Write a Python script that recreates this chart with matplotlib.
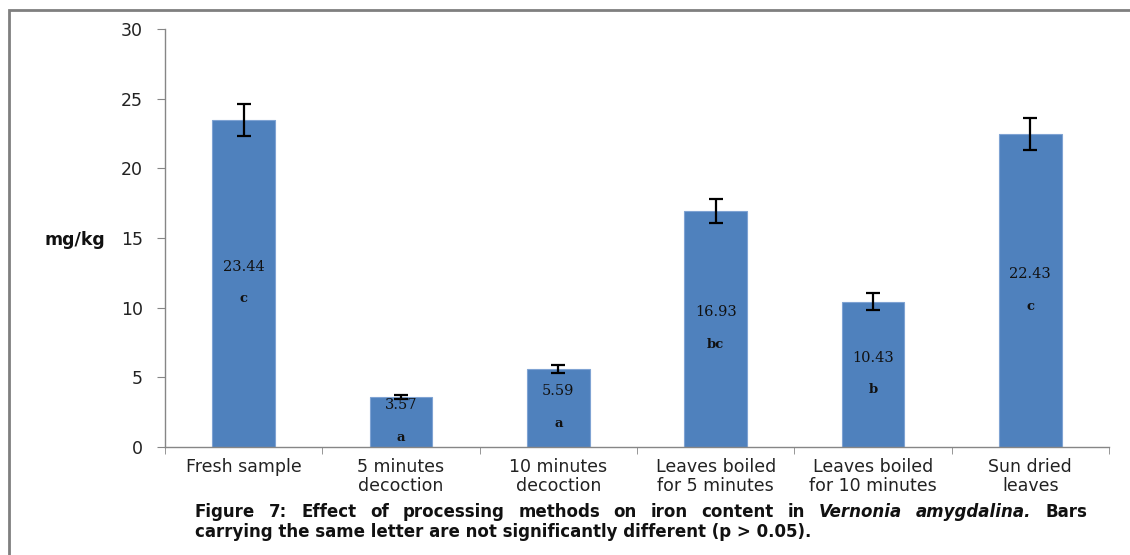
import matplotlib.pyplot as plt
import matplotlib.patches as patches
from matplotlib.ticker import FixedLocator

# iron content by processing method
methods = ["Fresh sample", "5 minutes\ndecoction", "10 minutes\ndecoction",
           "Leaves boiled\nfor 5 minutes", "Leaves boiled\nfor 10 minutes", "Sun dried\nleaves"]
iron = [23.44, 3.57, 5.59, 16.93, 10.43, 22.43]
iron_err = [1.15, 0.15, 0.3, 0.85, 0.6, 1.15]
letters = ["c", "a", "a", "bc", "b", "c"]

BAR = "#4F81BD"
AXIS = "#868686"

fig = plt.figure(figsize=(11.3, 5.55), dpi=100, facecolor="white")

# outer frame
fig.add_artist(patches.Rectangle((9 / 1130, -0.1), 1.2, 1 - 10 / 555 + 0.1,
                                 transform=fig.transFigure, fill=False,
                                 edgecolor="#7F7F7F", linewidth=2))

ax = fig.add_axes([165 / 1130, 1 - 447 / 555, (1109 - 165) / 1130, (447 - 29) / 555])
x = list(range(len(methods)))
ax.bar(x, iron, width=0.4, color=BAR, edgecolor="#7FA3D3", linewidth=0.8, zorder=2)
ax.errorbar(x, iron, yerr=iron_err, fmt="none", ecolor="black",
            elinewidth=1.6, capsize=5, capthick=1.6, zorder=3)

for xi, v, lt in zip(x, iron, letters):
    ax.annotate(f"{v:.2f}", (xi, v / 2), xytext=(0, 12), textcoords="offset points",
                ha="center", va="center", fontsize=10.5, family="DejaVu Serif",
                color="#111111", zorder=4)
    ax.annotate(lt, (xi, v / 2), xytext=(0, -11), textcoords="offset points",
                ha="center", va="center", fontsize=9.5, family="DejaVu Serif",
                fontweight="bold", color="#111111", zorder=4)

ax.set_xlim(-0.5, len(methods) - 0.5)
ax.set_ylim(0, 30)
ax.set_yticks(range(0, 31, 5))
ax.set_xticks(x)
ax.set_xticklabels(methods, fontsize=12.5, color="#222222", linespacing=1.05)
ax.xaxis.set_minor_locator(FixedLocator([i - 0.5 for i in range(len(methods) + 1)]))
ax.tick_params(axis="x", which="major", length=0, pad=8)
ax.tick_params(axis="x", which="minor", length=5, color=AXIS, direction="out")
ax.tick_params(axis="y", length=6, color=AXIS, pad=10, labelsize=12.5, labelcolor="#222222")
for s in ["top", "right"]:
    ax.spines[s].set_visible(False)
for s in ["left", "bottom"]:
    ax.spines[s].set_color(AXIS)
    ax.spines[s].set_linewidth(1)

fig.text(44 / 1130, 1 - 240 / 555, "mg/kg", fontsize=12.5, fontweight="bold",
         ha="left", va="center", color="#111111")

# caption, first line justified word by word
fig.canvas.draw()
renderer = fig.canvas.get_renderer()
line1 = [("Figure", "normal"), ("7:", "normal"), ("Effect", "normal"), ("of", "normal"),
         ("processing", "normal"), ("methods", "normal"), ("on", "normal"), ("iron", "normal"),
         ("content", "normal"), ("in", "normal"), ("Vernonia", "italic"),
         ("amygdalina.", "italic"), ("Bars", "normal")]
x0, x1 = 195, 1087
y1 = 1 - 512 / 555
widths = []
texts = []
for w, st in line1:
    t = fig.text(0, y1, w, fontsize=12, fontweight="bold", style=st,
                 ha="left", va="center", color="#111111")
    texts.append(t)
    widths.append(t.get_window_extent(renderer).width)
gap = (x1 - x0 - sum(widths)) / (len(line1) - 1)
pos = x0
for t, wdt in zip(texts, widths):
    t.set_x(pos / 1130)
    pos += wdt + gap
fig.text(x0 / 1130, 1 - 532 / 555,
         "carrying the same letter are not significantly different (p > 0.05).",
         fontsize=12, fontweight="bold", ha="left", va="center", color="#111111")

fig.savefig("out.png", dpi=100, facecolor="white")
